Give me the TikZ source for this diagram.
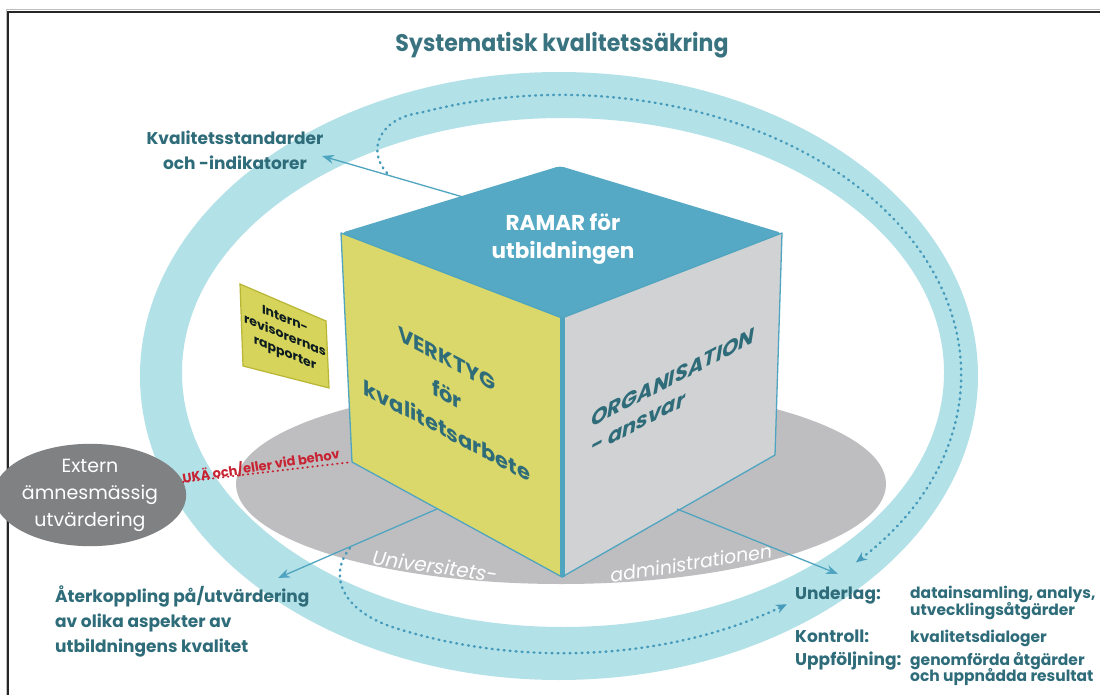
\documentclass[tikz,border=0pt]{standalone}
\usepackage{fontspec}
\setmainfont{Poppins}
\usetikzlibrary{arrows.meta,shapes.geometric}
\definecolor{tealtxt}{RGB}{47,108,122}
\definecolor{titletxt}{RGB}{58,115,128}
\definecolor{ringblue}{RGB}{179,225,232}
\definecolor{topblue}{RGB}{85,169,196}
\definecolor{edgeblue}{RGB}{79,165,192}
\definecolor{dotblue}{RGB}{70,155,186}
\definecolor{faceyellow}{RGB}{218,216,106}
\definecolor{boxyellow}{RGB}{214,212,90}
\definecolor{boxedge}{RGB}{184,182,52}
\definecolor{facegray}{RGB}{209,210,212}
\definecolor{basegray}{RGB}{190,190,192}
\definecolor{extgray}{RGB}{128,129,131}
\definecolor{ukared}{RGB}{200,35,50}
\begin{document}
\begin{tikzpicture}[x=1pt,y=-1pt,
  txt/.style={text=tealtxt, font=\bfseries, inner sep=0pt},
  bluearrow/.style={draw=edgeblue, line width=1.3pt, -{Stealth[length=12pt,width=9pt]}},
  dotarrow/.style={draw=dotblue, line width=2.4pt, line cap=round, dash pattern=on 1pt off 5pt, -{Stealth[length=11pt,width=9pt]}},
  cubeedge/.style={draw=edgeblue, line width=1.3pt, line join=round}]
\useasboundingbox (0,0) rectangle (1100,695);
\fill[white] (0,0) rectangle (1100,695);
% frame
\draw[black!25, line width=1pt] (6,695) -- (6,10) -- (1100,10);
\draw[black!85, line width=2pt] (8,695) -- (8,12) -- (1100,12);
% title
\node[text=titletxt, font=\bfseries\fontsize{24}{28}\selectfont, xscale=0.92, inner sep=0pt] (title) at (562,45) {Systematisk kvalitetssäkring};
% ring
\fill[ringblue, even odd rule] (559,376) ellipse [x radius=419pt, y radius=304pt]
  (563,372.5) ellipse [x radius=381pt, y radius=254.5pt];
% base ellipse
\fill[basegray] (561,484) ellipse [x radius=325pt, y radius=100pt];
% dotted cycle paths
\draw[dotarrow] (387,173) .. controls (366,150) and (380,118) .. (420.3,112.8)
  arc[start angle=110.6, end angle=-42.5, x radius=400pt, y radius=279pt];
\draw[dotarrow] (350,548) .. controls (326,578) and (345,614) .. (400.2,629.5)
  arc[start angle=-113.7, end angle=-55.6, x radius=400pt, y radius=279pt];
% cube
\coordinate (cTL) at (341,233);
\coordinate (cTB) at (560,166);
\coordinate (cTR) at (782,233);
\coordinate (cF) at (562,318);
\coordinate (cBL) at (352,462);
\coordinate (cB) at (562,577);
\coordinate (cBR) at (775,455);
\fill[topblue, rounded corners=4pt] (cTL) -- (cTB) -- (cTR) -- (cF) -- cycle;
\filldraw[fill=faceyellow, cubeedge] (cTL) -- (cF) -- (cB) -- (cBL) -- cycle;
\filldraw[fill=facegray, cubeedge] (cF) -- (cTR) -- (cBR) -- (cB) -- cycle;
\draw[edgeblue, line width=5pt] (cF) -- (cB);
% intern box
\filldraw[fill=boxyellow, draw=boxedge, line width=1.2pt] (240,284) -- (326,321) -- (329,388) -- (243,366) -- cycle;
\node[text=black!75!tealtxt, font=\bfseries\fontsize{12.5}{17}\selectfont, align=center, yslant=-0.42, inner sep=0pt] (intern) at (285,337) {Intern-\\revisorernas\\rapporter};
% extern
\node[ellipse, fill=extgray, minimum width=146pt, minimum height=94pt, inner sep=0pt, text=white, align=center, font=\fontsize{19}{27}\selectfont] (extern) at (90,495) {Extern\\ämnesmässig\\utvärdering};
\draw[ukared, line width=2pt, line cap=round, dash pattern=on 0.5pt off 4.5pt] (extern.8) -- (cBL);
\node[text=ukared, font=\bfseries\fontsize{13}{15}\selectfont, rotate=9, inner sep=0pt] (uka) at (261,466) {UKÄ och/eller vid behov};
% face texts
\node[text=white, font=\bfseries\fontsize{21.5}{28}\selectfont, align=center, inner sep=0pt] (ramar) at (563,239) {RAMAR för\\utbildningen};
\node[txt, font=\bfseries\fontsize{21}{36}\selectfont, align=center, yslant=-0.53] (verktyg) at (447,395) {VERKTYG\\för\\kvalitetsarbete};
\node[txt, font=\bfseries\itshape\fontsize{21}{27}\selectfont, align=left, yslant=0.52] (org) at (673,391) {ORGANISATION\\- ansvar};
\node[text=white, font=\itshape\fontsize{20}{22}\selectfont, rotate=-8, inner sep=0pt] (univ) at (435,566) {Universitets-};
\node[text=white, font=\itshape\fontsize{19}{22}\selectfont, rotate=9, inner sep=0pt] (adm) at (691,563) {administrationen};
% outer labels
\node[txt, font=\bfseries\fontsize{17}{25}\selectfont, align=center] (kval) at (235,150) {Kvalitetsstandarder\\och -indikatorer};
\node[txt, font=\bfseries\fontsize{17}{25}\selectfont, align=left, anchor=north west] (ater) at (55,586) {Återkoppling på/utvärdering\\av olika aspekter av\\utbildningens kvalitet};
\node[txt, font=\bfseries\fontsize{17}{20}\selectfont, anchor=base west] (und) at (795,599) {Underlag:};
\node[txt, font=\bfseries\fontsize{15.5}{17}\selectfont, anchor=base west, align=left] (undtxt) at (910,598) {datainsamling, analys,};
\node[txt, font=\bfseries\fontsize{15.5}{17}\selectfont, anchor=base west] (undtxt2) at (910,615) {utvecklingsåtgärder};
\node[txt, font=\bfseries\fontsize{17}{20}\selectfont, anchor=base west] (kon) at (795,642) {Kontroll:};
\node[txt, font=\bfseries\fontsize{15.5}{17}\selectfont, anchor=base west] (kontxt) at (910,642) {kvalitetsdialoger};
\node[txt, font=\bfseries\fontsize{17}{20}\selectfont, anchor=base west] (upp) at (795,665) {Uppföljning:};
\node[txt, font=\bfseries\fontsize{15.5}{17}\selectfont, anchor=base west] (upptxt) at (910,665) {genomförda åtgärder};
\node[txt, font=\bfseries\fontsize{15.5}{17}\selectfont, anchor=base west] (upptxt2) at (910,681) {och uppnådda resultat};
% arrows
\coordinate (aTop) at (463,197);
\coordinate (kvalTip) at (322,156);
\coordinate (aLeft) at (437,509);
\coordinate (aterTip) at (278,578);
\coordinate (aRight) at (677,509);
\coordinate (undTip) at (838,574);
\draw[bluearrow] (aTop) -- (kvalTip);
\draw[bluearrow] (aLeft) -- (aterTip);
\draw[bluearrow] (aRight) -- (undTip);
\end{tikzpicture}
\end{document}
